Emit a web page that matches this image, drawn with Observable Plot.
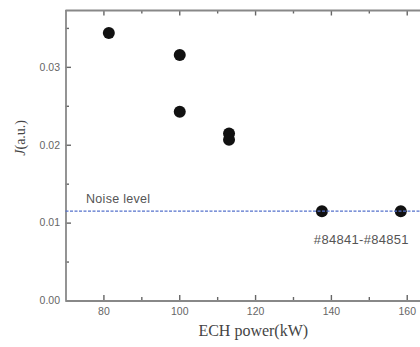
<!DOCTYPE html>
<html>
<head>
<meta charset="utf-8">
<script src="https://cdn.jsdelivr.net/npm/d3@7"></script>
<script src="https://cdn.jsdelivr.net/npm/@observablehq/plot@0.6"></script>
<style>
  html, body { margin: 0; padding: 0; background: #fff; overflow: hidden; }
  #chart svg { display: block; }
</style>
</head>
<body>
<div id="chart"></div>
<script>
// ECH power scan: measured signal J versus injected power
const power = [81.3, 100, 100, 113, 113, 137.5, 158.3];
const signal = [0.0344, 0.0316, 0.0243, 0.0215, 0.0207, 0.01153, 0.01153];
const noiseLevel = 0.01153;
const xMajorTicks = [80, 100, 120, 140, 160];
const xMinorTicks = [90, 110, 130, 150];
const yMajorTicks = [0.00, 0.01, 0.02, 0.03];
const yMinorTicks = [0.005, 0.015, 0.025, 0.035];
const noiseLabel = "Noise level";
const shotLabel = "#84841-#84851";
const xTitle = "ECH power(kW)";
const yTitle = "J(a.u.)";

const xMin = 70, xMax = 163.5, yMax = 0.0373;

const W = 420, H = 347;
const M = {left: 65.5, right: 0, top: 10, bottom: 46.5};
const frameW = W - M.left - M.right, frameH = H - M.top - M.bottom;

const points = power.map((p, i) => ({power: p, J: signal[i]}));
const shotSpan = [{power: d3.mean(power.slice(5)), J: noiseLevel}];

const frameColor = "#888";
const sans = "Liberation Sans, Arial, sans-serif";
const serif = "Liberation Serif, Times New Roman, serif";
const tickFont = {fontSize: 10.5, fill: "#666", fontFamily: sans};
const tickStroke = {stroke: "#666", strokeWidth: 1.4};

// inward tick marks: rules across the frame, inset so only a short stub remains
const bottomTicks = (data, len) => Plot.ruleX(data, {x: d => d, insetTop: frameH - len, ...tickStroke});
const topTicks = (data, len) => Plot.ruleX(data, {x: d => d, insetBottom: frameH - len, ...tickStroke});
const leftTicks = (data, len) => Plot.ruleY(data, {y: d => d, insetRight: frameW - len, ...tickStroke});

const chart = Plot.plot({
  width: W,
  height: H,
  marginLeft: M.left,
  marginRight: M.right,
  marginTop: M.top,
  marginBottom: M.bottom,
  style: {fontFamily: sans, background: "#fff"},
  x: {domain: [xMin, xMax]},
  y: {domain: [0, yMax]},
  marks: [
    // tick labels
    Plot.axisX(xMajorTicks, {tickSize: 0, tickPadding: 7, ...tickFont, tickFormat: d => d, label: null}),
    Plot.axisY(yMajorTicks, {tickSize: 0, tickPadding: 6, ...tickFont, tickFormat: d3.format(".2f"), label: null}),
    // inward tick marks on bottom, top and left
    bottomTicks(xMajorTicks, 5.5),
    bottomTicks(xMinorTicks, 3.5),
    topTicks(xMajorTicks, 5.5),
    topTicks(xMinorTicks, 3.5),
    leftTicks(yMajorTicks, 5.5),
    leftTicks(yMinorTicks, 3.5),
    // frame: left, bottom, top
    Plot.ruleY([0, yMax], {stroke: frameColor, strokeWidth: 1.8}),
    Plot.ruleX([xMin], {stroke: frameColor, strokeWidth: 1.8}),
    // data points
    Plot.dot(points, {x: "power", y: "J", r: 6, fill: "#111", stroke: "none"}),
    // noise level line
    Plot.ruleY([noiseLevel], {stroke: "#5572cc", strokeWidth: 1.3, strokeDasharray: "3,1.5"}),
    Plot.text([noiseLabel], {frameAnchor: "left", y: noiseLevel, text: d => d, dx: 20, dy: -12, textAnchor: "start", fontSize: 12.5, fill: "#555", fontFamily: sans, className: "spaced"}),
    Plot.text(shotSpan, {x: "power", y: "J", text: () => shotLabel, dy: 29, fontSize: 13, fill: "#555", fontFamily: sans, className: "spaced"}),
    // axis titles
    Plot.text([xTitle], {frameAnchor: "bottom", text: d => d, dx: 10, dy: 35, fontSize: 16, fill: "#444", fontFamily: serif}),
    Plot.text([yTitle], {frameAnchor: "left", text: d => d, dx: -45, rotate: -90, fontSize: 14, fill: "#444", fontFamily: serif, className: "ytitle"})
  ]
});

d3.select(chart).selectAll(".spaced text").attr("letter-spacing", "0.3px");

// italic J in the y title
d3.select(chart).selectAll(".ytitle text").each(function () {
  const t = d3.select(this);
  t.text(null);
  t.append("tspan").attr("font-style", "italic").text("J");
  t.append("tspan").text(yTitle.slice(1));
});

document.getElementById("chart").appendChild(chart);
</script>
</body>
</html>
